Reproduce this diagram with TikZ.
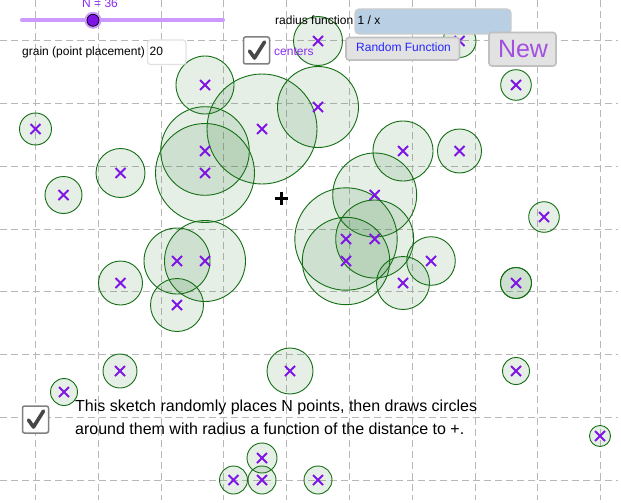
\documentclass[tikz,border=0pt]{standalone}
\usepackage{fontspec}
\setmainfont{Liberation Sans}
\definecolor{gridc}{HTML}{B8B8B8}
\definecolor{cedge}{HTML}{146E14}
\definecolor{cfill}{HTML}{2E7D32}
\definecolor{xcol}{HTML}{7F14E6}
\definecolor{txtpurple}{HTML}{8A2BF0}
\definecolor{newcol}{HTML}{A24FE0}
\definecolor{slidercol}{HTML}{CC99FF}
\definecolor{btnfill}{HTML}{E2E2E2}
\definecolor{btnedge}{HTML}{C0C0C0}
\definecolor{inputblue}{HTML}{B9CFE3}
\tikzset{
  gridline/.style={gridc,line width=0.8pt,dash pattern=on 7pt off 4pt},
  disc/.style={draw=cedge,line width=0.9pt,fill=cfill,fill opacity=0.12},
  crossmark/.style={xcol,line width=2pt},
  txt/.style={inner sep=0pt,anchor=base west,text=black,font=\fontsize{12}{14}\selectfont},
  btnbox/.style={draw=btnedge,line width=1.6pt,fill=btnfill,rounded corners=3pt},
  chkbox/.style={draw=gray,line width=1.5pt,fill=white,rounded corners=2pt}
}
\newcommand{\checkmarkbox}[2]{%
  \draw[chkbox] (#1-13,#2-15) rectangle (#1+13,#2+12);
  \draw[black!72,line width=3.6pt,line join=round,line cap=round] (#1-7,#2-1) -- (#1-2,#2+6) -- (#1+8,#2-10);
}
\begin{document}
\begin{tikzpicture}[x=1pt,y=-1pt]
\useasboundingbox (0,0) rectangle (621,503);
\fill[white] (0,0) rectangle (621,503);
% grid
\foreach \x in {35.6,98.4,161.4,223.8,286.4,349.2,412,475,537.6,600.3}
  \draw[gridline] (\x,0) -- (\x,500);
\foreach \y in {40.7,103.4,166.3,229.2,291.5,354.3,417.3,480}
  \draw[gridline] (0,\y) -- (618,\y);
% circles
\foreach \x/\y/\r in {318/41/24.5,459.5/41/16.5,516/85/15.3,205/85/29,262/129/55,318/107/40.5,35.5/129/16,205/151/44.3,205/173/49.5,120.5/173/24.5,403/151/30,459.5/151/22,63.5/195/18.5,374.7/195/42,346/239/51.2,374.7/239/39,346/261/43.7,431/261/24.3,403/283/26.5,544/217/15.3,205/261/40.5,177/261/33,120.5/283/22,177/305/26.5,516/283/15.5,516/283/15.5,120/371/17,290/371/23,516/371/13.5,64/392/13.5,600/436/10.5,262/458/15,233.5/480/14,262/480/14,318/480/14}
  \draw[disc] (\x,\y) circle[radius=\r];
% centres
\foreach \x/\y in {318/41,459.5/41,516/85,205/85,262/129,318/107,35.5/129,205/151,205/173,120.5/173,403/151,459.5/151,63.5/195,374.7/195,346/239,374.7/239,346/261,431/261,403/283,544/217,205/261,177/261,120.5/283,177/305,516/283,120/371,290/371,516/371,64/392,600/436,262/458,233.5/480,262/480,318/480}
  \draw[crossmark] (\x-5,\y-5) -- (\x+5,\y+5) (\x-5,\y+5) -- (\x+5,\y-5);
% plus
\draw[black,line width=3pt] (274.5,198) -- (287.5,198) (281,191.5) -- (281,204.5);
% slider
\draw[slidercol,line width=4pt,line cap=round] (22,20.3) -- (223,20.3);
\fill[slidercol] (93,20.3) circle[radius=8.5];
\draw[black,line width=0.7pt,fill=xcol] (93,20.3) circle[radius=6];
\node[txt,text=txtpurple] (nlabel) at (82,7.5) {N = 36};
% labels and inputs
\node[txt] (grain) at (22,56) {grain (point placement)};
\draw[btnfill,line width=1.2pt,fill=white,rounded corners=3pt] (147.5,40) rectangle (186,64.5);
\node[txt] (grainval) at (149.5,56) {20};
\checkmarkbox{256.5}{52}
\node[txt,text=txtpurple] (centers) at (274,56) {centers};
\node[txt] (radius) at (275,25) {radius function};
\draw[draw=black!20,line width=1.2pt,fill=inputblue,rounded corners=4pt] (355,9) rectangle (511,34);
\node[txt] (fn) at (357.5,25) {1 / x};
\draw[btnbox] (346,37.5) rectangle (459.5,60);
\node[txt,text=blue!85!white] (rf) at (356,52) {Random Function};
\draw[btnbox] (489,32.5) rectangle (556,66);
\node[inner sep=0pt,text=newcol,font=\fontsize{25}{28}\selectfont] (new) at (523,49) {New};
% description
\checkmarkbox{35.5}{421}
\node[txt,font=\fontsize{16}{22}\selectfont] (desc1) at (75,411) {This sketch randomly places N points, then draws circles};
\node[txt,font=\fontsize{16}{22}\selectfont] (desc2) at (75,434.5) {around them with radius a function of the distance to +.};
\end{tikzpicture}
\end{document}
